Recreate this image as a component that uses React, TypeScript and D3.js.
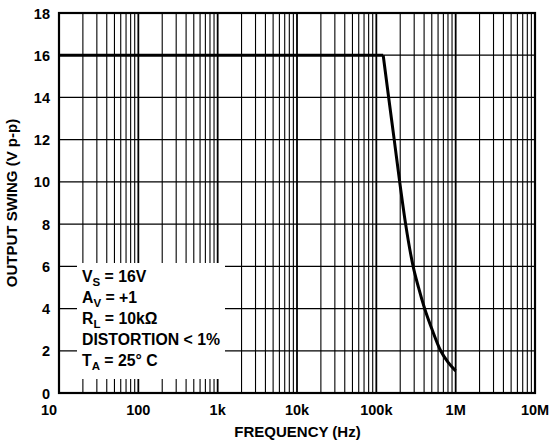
import React from "react";
import * as d3 from "d3";

const freqHz = [10, 122e3, 143e3, 168e3, 197e3, 234e3, 291e3, 340e3, 406e3, 505e3, 647e3, 804e3, 1e6];
const swingVpp = [16, 16, 14, 12, 10, 8, 6, 5, 4, 3, 2, 1.45, 1.05];
const xTickValues = [10, 100, 1e3, 1e4, 1e5, 1e6, 1e7];
const xTickLabels = ["10", "100", "1k", "10k", "100k", "1M", "10M"];
const yTickValues = [0, 2, 4, 6, 8, 10, 12, 14, 16, 18];
const legendLines = [
  { main: "V", sub: "S", rest: " = 16V" },
  { main: "A", sub: "V", rest: " = +1" },
  { main: "R", sub: "L", rest: " = 10kΩ" },
  { main: "DISTORTION < 1%", sub: "", rest: "" },
  { main: "T", sub: "A", rest: " = 25° C" },
];

const W = 550, H = 444;
const left = 59, right = 535, top = 13, bottom = 393;
const FONT = "Arial, 'Liberation Sans', Helvetica, sans-serif";

export default function App() {
  const x = d3.scaleLog().domain([10, 1e7]).range([left, right]);
  const y = d3.scaleLinear().domain([0, 18]).range([bottom, top]);

  const minor: number[] = [];
  for (let d = 10; d < 1e7; d *= 10) {
    for (let k = 2; k <= 9; k++) minor.push(d * k);
  }
  const major = xTickValues.slice(1, -1);

  const box = { x0: 77, x1: 225, y0: 263, y1: 379 };

  const pts: [number, number][] = freqHz.map((f, i) => [x(f), y(swingVpp[i])]);
  const flat = d3.line().curve(d3.curveLinear)(pts.slice(0, 2)) || "";
  const roll = d3.line().curve(d3.curveMonotoneX)(pts.slice(1)) || "";

  return (
    <svg width={W} height={H} style={{ position: "absolute", left: 0, top: 0, background: "#fff" }}>
      <rect x={0} y={0} width={W} height={H} fill="#fff" />
      {yTickValues.slice(1, -1).map((v) => (
        <line key={"h" + v} x1={left} x2={right} y1={y(v)} y2={y(v)} stroke="#000" strokeWidth={1.3} />
      ))}
      {minor.map((f) => (
        <line key={"m" + f} x1={x(f)} x2={x(f)} y1={top} y2={bottom} stroke="#000" strokeWidth={1.1} />
      ))}
      {major.map((f) => (
        <line key={"M" + f} x1={x(f)} x2={x(f)} y1={top} y2={bottom} stroke="#000" strokeWidth={1.8} />
      ))}
      <rect x={box.x0} y={box.y0} width={box.x1 - box.x0} height={box.y1 - box.y0} fill="#fff" />
      <rect x={left} y={top} width={right - left} height={bottom - top} fill="none" stroke="#000" strokeWidth={2.2} />
      <path d={flat + roll} fill="none" stroke="#000" strokeWidth={3} strokeLinejoin="miter" />
      {yTickValues.map((v) => (
        <text key={"yl" + v} x={50} y={y(v) + 5.5} textAnchor="end" fontFamily={FONT} fontWeight="bold" fontSize={14.5} fill="#000">
          {v}
        </text>
      ))}
      {xTickValues.map((v, i) => (
        <text key={"xl" + v} x={i === 0 ? x(v) - 10 : x(v)} y={415} textAnchor="middle" fontFamily={FONT} fontWeight="bold" fontSize={14.5} fill="#000">
          {xTickLabels[i]}
        </text>
      ))}
      <text x={297.5} y={437} textAnchor="middle" fontFamily={FONT} fontWeight="bold" fontSize={15} fill="#000">
        FREQUENCY (Hz)
      </text>
      <text transform={`translate(17,${(top + bottom) / 2}) rotate(-90)`} textAnchor="middle" fontFamily={FONT} fontWeight="bold" fontSize={15} fill="#000">
        OUTPUT SWING (V p-p)
      </text>
      {legendLines.map((l, i) => (
        <text key={"lg" + i} x={82} y={281.5 + i * 21.1} fontFamily={FONT} fontWeight="bold" fontSize={15.8} fill="#000">
          {l.main}
          {l.sub ? (
            <tspan fontSize={11.5} dy={4}>{l.sub}</tspan>
          ) : null}
          {l.rest ? <tspan dy={l.sub ? -4 : 0}>{l.rest}</tspan> : null}
        </text>
      ))}
    </svg>
  );
}
